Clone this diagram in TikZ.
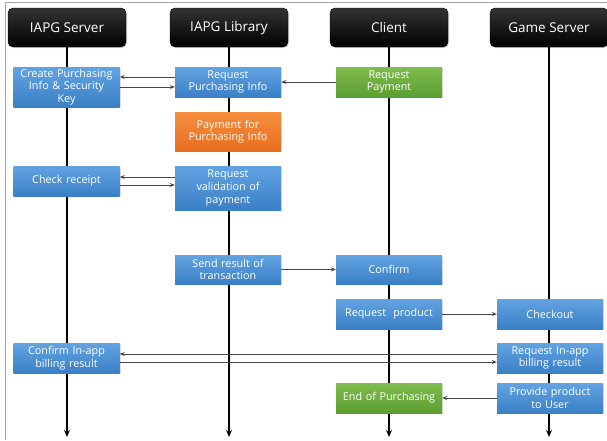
\documentclass[tikz,border=0pt]{standalone}
\usepackage{fontspec}
\setmainfont{Open Sans}
\usetikzlibrary{arrows.meta,shadows}
\definecolor{bluetop}{RGB}{98,163,226}
\definecolor{bluebot}{RGB}{58,128,198}
\definecolor{greentop}{RGB}{128,188,78}
\definecolor{greenbot}{RGB}{92,158,48}
\definecolor{orangetop}{RGB}{246,142,62}
\definecolor{orangebot}{RGB}{232,110,32}
\definecolor{conn}{RGB}{70,70,70}
\tikzset{
  hdr/.style={rounded corners=5pt, top color=black!80, bottom color=black, draw=black,
    minimum width=118pt, minimum height=39pt, inner sep=0pt, text=white,
    font=\fontsize{13.5}{15}\selectfont, drop shadow={opacity=0.3,shadow xshift=1pt,shadow yshift=-1pt}},
  box/.style={minimum width=106pt, text width=100pt, align=center, inner sep=0pt,
    text=white, font=\fontsize{10.8}{12.6}\selectfont,
    drop shadow={opacity=0.25,shadow xshift=1pt,shadow yshift=-1pt}},
  bbox/.style={box, top color=bluetop, bottom color=bluebot},
  gbox/.style={box, top color=greentop, bottom color=greenbot},
  obox/.style={box, top color=orangetop, bottom color=orangebot},
  life/.style={line width=2pt, black, -{Stealth[length=7pt,width=6pt]}},
  msg/.style={conn, line width=0.8pt, -{Stealth[length=5pt,width=4pt]}}
}
\begin{document}
\begin{tikzpicture}[x=1pt,y=-1pt]
\useasboundingbox (0,0) rectangle (607,440);
\draw[gray!70, line width=0.8pt] (5,440) -- (5,2) -- (607,2);
% headers
\node[hdr] (h1) at (67,27.5) {IAPG Server};
\node[hdr] (h2) at (229,27.5) {IAPG Library};
\node[hdr] (h3) at (389,27.5) {Client};
\node[hdr] (h4) at (549,27.5) {Game Server};
\coordinate (e1) at (67,437);
\coordinate (e2) at (229,437);
\coordinate (e3) at (389,437);
\coordinate (e4) at (549,437);
\draw[life] (h1) -- (e1);
\draw[life] (h2) -- (e2);
\draw[life] (h3) -- (e3);
\draw[life] (h4) -- (e4);
% boxes
\node[bbox, minimum height=40pt] (create) at (66.5,87) {Create Purchasing\\Info \& Security\\Key};
\node[bbox, minimum height=30pt] (rpi) at (228,82) {Request\\Purchasing Info};
\node[gbox, minimum height=30pt] (rp) at (389,82) {Request\\Payment};
\node[obox, minimum height=39pt] (pay) at (228,131.5) {Payment for\\Purchasing Info};
\node[bbox, minimum height=30pt] (check) at (66.5,181) {Check receipt};
\node[bbox, minimum height=44pt] (rval) at (228,188) {Request\\validation of\\payment};
\node[bbox, minimum height=29pt] (send) at (228,269.5) {Send result of\\transaction};
\node[bbox, minimum height=29pt] (conf) at (389,269.5) {Confirm};
\node[bbox, minimum height=30pt] (rprod) at (389,314) {Request~ product};
\node[bbox, minimum height=30pt] (chk) at (550,314) {Checkout};
\node[bbox, minimum height=30pt] (cin) at (66.5,358) {Confirm In-app\\billing result};
\node[bbox, minimum height=30pt] (rin) at (550,358) {Request In-app\\billing result};
\node[bbox, minimum height=30pt] (prov) at (550,398) {Provide product\\to User};
\node[gbox, minimum height=30pt] (endp) at (389,398) {End of Purchasing};
% messages
\draw[msg] (rp.west) -- (rpi.east);
\draw[msg] (rpi.west |- 0,77) -- (create.east |- 0,77);
\draw[msg] (create.east |- 0,87) -- (rpi.west |- 0,87);
\draw[msg] (rval.west |- 0,177) -- (check.east |- 0,177);
\draw[msg] (check.east |- 0,185) -- (rval.west |- 0,185);
\draw[msg] (send.east) -- (conf.west);
\draw[msg] (rprod.east) -- (chk.west);
\draw[msg] (rin.west |- 0,354) -- (cin.east |- 0,354);
\draw[msg] (cin.east |- 0,362) -- (rin.west |- 0,362);
\draw[msg] (prov.west) -- (endp.east);
\end{tikzpicture}
\end{document}
